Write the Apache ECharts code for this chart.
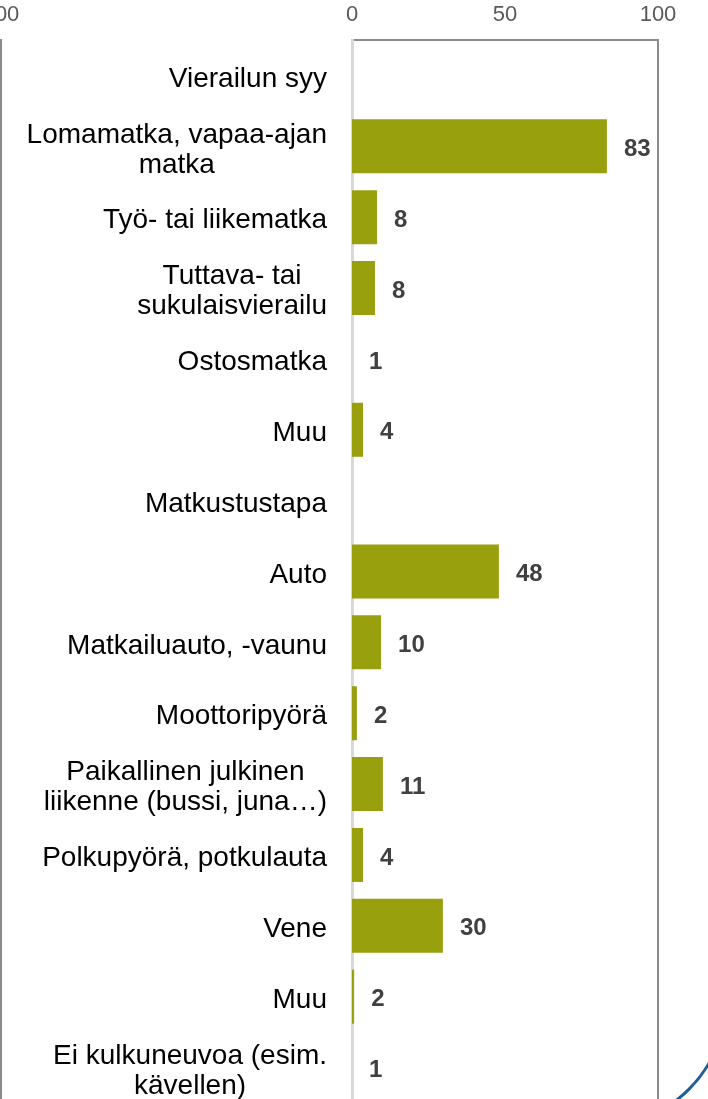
<!DOCTYPE html>
<html>
<head>
<meta charset="utf-8">
<script src="https://cdn.jsdelivr.net/npm/echarts@6/dist/echarts.min.js"></script>
<style>
  html, body { margin: 0; padding: 0; background: #fff; }
  #main { width: 708px; height: 1099px; }
</style>
</head>
<body>
<div id="main"></div>
<script>
var myChart = echarts.init(document.getElementById('main'));

// rivit ylhäältä alas; otsikkoriveillä ei arvoa
var categories = [
    'Vierailun syy',
    'Lomamatka, vapaa-ajan\nmatka',
    'Työ- tai liikematka',
    'Tuttava- tai\nsukulaisvierailu',
    'Ostosmatka',
    'Muu',
    'Matkustustapa',
    'Auto',
    'Matkailuauto, -vaunu',
    'Moottoripyörä',
    'Paikallinen julkinen\nliikenne (bussi, juna…)',
    'Polkupyörä, potkulauta',
    'Vene',
    'Muu ',
    'Ei kulkuneuvoa (esim.\nkävellen)'
];
// palkkien näkyvä pituus (luettu kuvasta)
var barLengths = [null, 83.3, 8.2, 7.5, 0, 3.6, null, 48, 9.5, 1.6, 10.1, 3.6, 29.7, 0.7, 0];
// palkkien päässä näkyvät luvut
var shares = [null, 83, 8, 8, 1, 4, null, 48, 10, 2, 11, 4, 30, 2, 1];
var xTicks = [0, 50, 100];

option = {
    animation: false,
    backgroundColor: '#fff',
    grid: [
        {
            left: 352, right: 50, top: 40, bottom: -4,
            outerBoundsMode: 'none',
            show: true, borderColor: '#8c8c8c', borderWidth: 2
        },
        {
            // edellisen paneelin reuna vasemmalla
            left: -400, right: 707, top: 40, bottom: -4,
            outerBoundsMode: 'none',
            show: true, borderColor: '#8c8c8c', borderWidth: 2
        }
    ],
    xAxis: [
        {
            gridIndex: 0,
            type: 'value',
            position: 'top',
            min: xTicks[0], max: xTicks[xTicks.length - 1], interval: 50,
            splitLine: { show: false },
            axisLine: { show: false },
            axisTick: { show: false },
            axisLabel: {
                margin: 14,
                fontFamily: 'Liberation Sans',
                fontSize: 22,
                color: '#595959'
            }
        },
        {
            gridIndex: 1,
            type: 'value',
            position: 'top',
            min: 0, max: 100, interval: 50,
            splitLine: { show: false },
            axisLine: { show: false },
            axisTick: { show: false },
            axisLabel: {
                margin: 14,
                fontFamily: 'Liberation Sans',
                fontSize: 22,
                color: '#595959'
            }
        }
    ],
    yAxis: [
        {
            gridIndex: 0,
            type: 'category',
            inverse: true,
            data: categories,
            axisLine: { show: true, lineStyle: { color: '#d9d9d9', width: 3 } },
            axisTick: { show: false },
            axisLabel: {
                margin: 25,
                padding: [7, 0, 0, 0],
                fontFamily: 'Liberation Sans',
                fontSize: 28,
                lineHeight: 30,
                color: '#000',
                formatter: function (v) {
                    return v.split('\n').map(function (l) {
                        return '{c|' + l.trim() + '}';
                    }).join('\n');
                },
                rich: {
                    c: {
                        align: 'center',
                        fontFamily: 'Liberation Sans',
                        fontSize: 28,
                        lineHeight: 30,
                        color: '#000'
                    }
                }
            }
        },
        {
            gridIndex: 1,
            type: 'category',
            data: [],
            show: false
        }
    ],
    series: [
        {
            type: 'bar',
            xAxisIndex: 0,
            yAxisIndex: 0,
            data: barLengths,
            barWidth: 54,
            itemStyle: { color: '#98a00e' },
            label: {
                show: true,
                position: 'right',
                distance: 16,
                offset: [1, 3],
                fontFamily: 'Liberation Sans',
                fontWeight: 'bold',
                fontSize: 24,
                color: '#404040',
                formatter: function (p) {
                    var s = shares[p.dataIndex];
                    return s == null ? '' : String(s);
                }
            }
        }
    ],
    graphic: [
        {
            type: 'arc',
            silent: true,
            shape: { cx: 600, cy: 1000, r: 126, startAngle: 0, endAngle: Math.PI / 2 },
            style: { stroke: '#1f5f99', lineWidth: 3, fill: null }
        }
    ]
};
myChart.setOption(option);
</script>
</body>
</html>
